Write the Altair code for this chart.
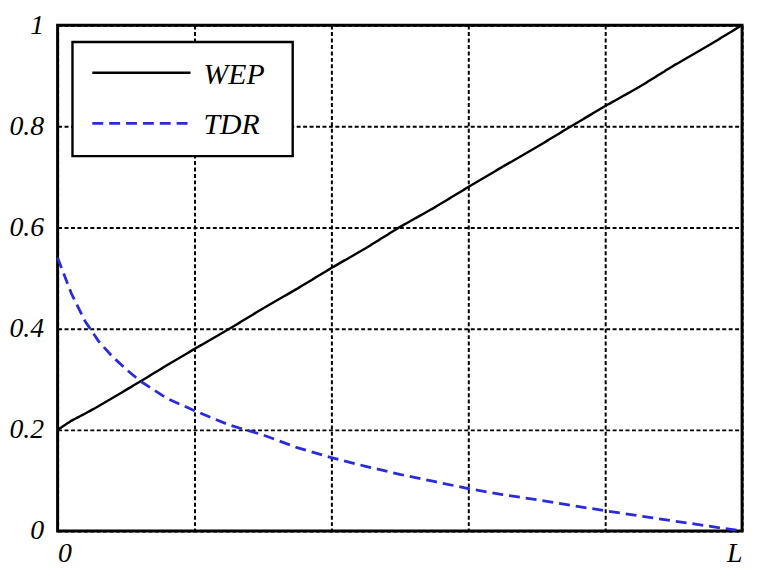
import altair as alt
import pandas as pd

x_pos = [0, 0.1, 0.2, 0.3, 0.4, 0.5, 0.6, 0.8, 1.0, 1.25, 1.5, 1.75, 2.0, 2.25, 2.5, 2.75,
         3.0, 3.25, 3.5, 3.75, 4.0, 4.25, 4.5, 4.75, 5.0]
wep = [0.200, 0.218, 0.232, 0.247, 0.263, 0.279, 0.295, 0.328, 0.360, 0.399, 0.440, 0.479,
       0.520, 0.559, 0.601, 0.639, 0.680, 0.720, 0.759, 0.800, 0.840, 0.878, 0.920, 0.959, 1.000]
tdr = [0.540, 0.470, 0.415, 0.375, 0.345, 0.320, 0.297, 0.262, 0.238, 0.210, 0.190, 0.165,
       0.145, 0.128, 0.112, 0.098, 0.084, 0.072, 0.062, 0.051, 0.040, 0.030, 0.020, 0.010, 0.000]
series = ["WEP", "TDR"]
colors = ["#000000", "#2b2bd9"]
dashes = [[1, 0], [11, 6]]
widths = [2.4, 2.8]
y_ticks = [0, 0.2, 0.4, 0.6, 0.8, 1.0]
x_ticks = [0, 1, 2, 3, 4, 5]

rows = []
for name, vals in zip(series, [wep, tdr]):
    for xv, yv in zip(x_pos, vals):
        rows.append({"x": xv, "y": yv, "series": name})
df = pd.DataFrame(rows)

FONT = "Liberation Serif"

base = alt.Chart(df)
lines = base.mark_line().encode(
    x=alt.X("x:Q", scale=alt.Scale(domain=[0, 5], nice=False),
            axis=alt.Axis(values=x_ticks, title=None, ticks=False, domain=False,
                          labelExpr="datum.value == 0 ? '0' : (datum.value == 5 ? 'L' : '')",
                          labelPadding=9, labelFontSize=28)),
    y=alt.Y("y:Q", scale=alt.Scale(domain=[0, 1], nice=False),
            axis=alt.Axis(values=y_ticks, title=None, ticks=False, domain=False,
                          format="~g", labelPadding=14, labelFontSize=28)),
    color=alt.Color("series:N", scale=alt.Scale(domain=series, range=colors), legend=None),
    strokeDash=alt.StrokeDash("series:N", scale=alt.Scale(domain=series, range=dashes), legend=None),
    strokeWidth=alt.StrokeWidth("series:N", scale=alt.Scale(domain=series, range=widths), legend=None),
)

# manual legend box
leg_df = pd.DataFrame({"series": series})
box = alt.Chart(leg_df).transform_filter(alt.datum.series == "WEP").mark_rect(
    fill="#ffffff", stroke="#000000", strokeWidth=2.4
).encode(x=alt.value(15), x2=alt.value(237), y=alt.value(17), y2=alt.value(132))

leg_wep = alt.Chart(leg_df).transform_filter(alt.datum.series == "WEP").mark_rule(
    color=colors[0], strokeWidth=widths[0]
).encode(x=alt.value(35), x2=alt.value(134), y=alt.value(48))
leg_tdr = alt.Chart(leg_df).transform_filter(alt.datum.series == "TDR").mark_rule(
    color=colors[1], strokeWidth=widths[1], strokeDash=dashes[1]
).encode(x=alt.value(35), x2=alt.value(134), y=alt.value(99))
txt_wep = alt.Chart(leg_df).transform_filter(alt.datum.series == "WEP").mark_text(
    align="left", baseline="middle", font=FONT, fontStyle="italic", fontSize=30, color="#000000"
).encode(x=alt.value(147), y=alt.value(50), text="series:N")
txt_tdr = alt.Chart(leg_df).transform_filter(alt.datum.series == "TDR").mark_text(
    align="left", baseline="middle", font=FONT, fontStyle="italic", fontSize=30, color="#000000"
).encode(x=alt.value(147), y=alt.value(101), text="series:N")

chart = alt.layer(lines, box, leg_wep, leg_tdr, txt_wep, txt_tdr).properties(
    width=690, height=510,
    autosize=alt.AutoSizeParams(type="none"),
    padding={"left": 50, "top": 15, "right": 10, "bottom": 40},
).configure_view(
    stroke="#000000", strokeWidth=3
).configure_axis(
    grid=True, gridColor="#000000", gridDash=[4, 2.5], gridWidth=2, gridOpacity=1,
    labelFont=FONT, labelFontStyle="italic", labelColor="#000000",
)

chart.save("out.html", embed_options={"renderer": "svg", "actions": False})
